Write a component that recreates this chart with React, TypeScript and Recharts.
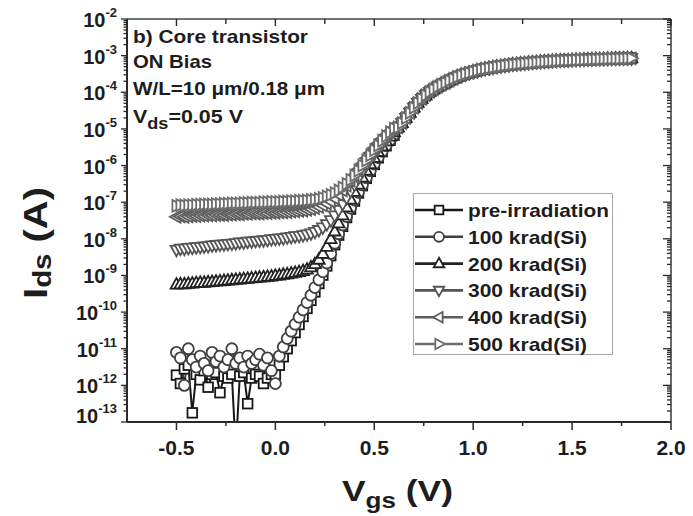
import React from 'react';
import { LineChart, Line, XAxis, YAxis, Legend } from 'recharts';

const CHART_W = 693;
const CHART_H = 516;
const FONT = '"Liberation Sans", Arial, Helvetica, sans-serif';
const INK = '#1d1d1d';
const AXIS = '#2a2a2a';

// Gate sweep grid (V)
const SWEEP_START = -0.5;
const SWEEP_STEP = 0.02;

// log10(Ids / A) for Vgs = -0.5 ... 0.6 V, one list per dose
const preIrradiation = [
  -11.72, -11.95, -11.55, -11.45, -12.75, -11.7, -11.85, -11.6, -12.05, -11.7,
  -11.65, -12.2, -11.75, -11.8, -11.7, -13.8, -11.75, -11.65, -12.5, -11.8,
  -11.7, -11.75, -11.95, -11.8, -11.7,
  -11.7, -11.45, -11.22, -11.0, -10.78, -10.56, -10.34, -10.12, -9.9, -9.68,
  -9.45, -9.22, -8.99, -8.74, -8.46, -8.16, -7.9, -7.66, -7.42, -7.19,
  -6.97, -6.75, -6.55, -6.35, -6.16, -5.97, -5.79, -5.62, -5.46, -5.31,
  -5.17,
];
const krad100 = [
  -11.1, -11.25, -12.0, -11.0, -11.3, -11.5, -11.2, -11.4, -11.6, -11.1,
  -11.35, -11.2, -11.5, -11.3, -11.0, -11.4, -11.25, -11.5, -11.2, -11.4,
  -11.3, -11.15, -11.45, -11.25, -11.6,
  -11.95, -11.2, -10.95, -10.72, -10.52, -10.33, -10.14, -9.94, -9.74, -9.54,
  -9.33, -9.12, -8.9, -8.66, -8.4, -8.12, -7.86, -7.62, -7.39, -7.16,
  -6.94, -6.73, -6.53, -6.33, -6.14, -5.96, -5.78, -5.61, -5.45, -5.3,
  -5.16,
];
const krad200 = [
  -9.25, -9.24, -9.24, -9.23, -9.22, -9.21, -9.2, -9.2, -9.19, -9.18,
  -9.17, -9.16, -9.15, -9.14, -9.13, -9.12, -9.11, -9.1, -9.09, -9.08,
  -9.07, -9.06, -9.05, -9.04, -9.03,
  -9.01, -9.0, -8.98, -8.97, -8.95, -8.93, -8.91, -8.88, -8.84, -8.78,
  -8.69, -8.57, -8.41, -8.22, -8.01, -7.8, -7.58, -7.36, -7.14, -6.93,
  -6.72, -6.52, -6.33, -6.14, -5.96, -5.79, -5.63, -5.48, -5.34, -5.21,
  -5.09,
];
const krad300 = [
  -8.3, -8.27, -8.27, -8.25, -8.24, -8.23, -8.22, -8.21, -8.2, -8.18,
  -8.17, -8.16, -8.15, -8.14, -8.13, -8.12, -8.1, -8.1, -8.08, -8.07,
  -8.06, -8.05, -8.04, -8.03, -8.01,
  -8.0, -7.99, -7.98, -7.96, -7.95, -7.93, -7.92, -7.9, -7.88, -7.85,
  -7.81, -7.76, -7.69, -7.6, -7.49, -7.36, -7.21, -7.05, -6.88, -6.7,
  -6.52, -6.34, -6.16, -5.99, -5.83, -5.68, -5.54, -5.41, -5.29, -5.17,
  -5.06,
];
const krad400 = [
  -7.4, -7.39, -7.4, -7.39, -7.38, -7.38, -7.37, -7.37, -7.36, -7.36,
  -7.35, -7.35, -7.35, -7.34, -7.34, -7.33, -7.33, -7.32, -7.32, -7.31,
  -7.31, -7.31, -7.3, -7.3, -7.29,
  -7.29, -7.28, -7.28, -7.27, -7.26, -7.25, -7.24, -7.23, -7.21, -7.19,
  -7.16, -7.13, -7.09, -7.04, -6.98, -6.9, -6.8, -6.68, -6.55, -6.41,
  -6.26, -6.1, -5.95, -5.8, -5.66, -5.52, -5.39, -5.27, -5.16, -5.06,
  -4.98,
];
const krad500 = [
  -7.1, -7.08, -7.09, -7.08, -7.08, -7.07, -7.07, -7.06, -7.06, -7.06,
  -7.05, -7.05, -7.04, -7.04, -7.03, -7.03, -7.03, -7.02, -7.02, -7.01,
  -7.01, -7.01, -7.0, -7.0, -6.99,
  -6.99, -6.99, -6.98, -6.98, -6.97, -6.97, -6.96, -6.96, -6.95, -6.94,
  -6.93, -6.91, -6.88, -6.84, -6.8, -6.75, -6.68, -6.6, -6.5, -6.39,
  -6.27, -6.14, -6.0, -5.86, -5.72, -5.58, -5.45, -5.32, -5.2, -5.09,
  -4.99,
];

// log10(Ids / A) for Vgs = 0.62 ... 1.8 V, where all doses coincide
const onState = [
  -4.96, -4.84, -4.7, -4.56, -4.42, -4.29, -4.18, -4.08, -3.99, -3.92,
  -3.85, -3.79, -3.74, -3.68, -3.63, -3.58, -3.54, -3.5, -3.47, -3.44,
  -3.41, -3.38, -3.36, -3.34, -3.32, -3.3, -3.285, -3.27, -3.255, -3.24,
  -3.23, -3.22, -3.21, -3.2, -3.19, -3.18, -3.172, -3.164, -3.157, -3.15,
  -3.144, -3.138, -3.133, -3.128, -3.123, -3.118, -3.114, -3.11, -3.106, -3.102,
  -3.098, -3.095, -3.092, -3.089, -3.086, -3.083, -3.08, -3.078, -3.075, -3.072,
];

const seriesKeys = ['pre', 'k100', 'k200', 'k300', 'k400', 'k500'];
const seriesNames = ['pre-irradiation', '100 krad(Si)', '200 krad(Si)', '300 krad(Si)', '400 krad(Si)', '500 krad(Si)'];
const seriesColors = ['#181818', '#404040', '#232323', '#555555', '#5d5d5d', '#6c6c6c'];
const seriesShapes = ['square', 'circle', 'up', 'down', 'left', 'right'];
const seriesLow = [preIrradiation, krad100, krad200, krad300, krad400, krad500];

const xTicks = [-0.5, -0.25, 0, 0.25, 0.5, 0.75, 1.0, 1.25, 1.5, 1.75, 2.0];
const yDecades = [-13, -12, -11, -10, -9, -8, -7, -6, -5, -4, -3, -2];

const rows: Record<string, number>[] = [];
seriesLow[0].forEach((_, i) => {
  const row: Record<string, number> = { vgs: +(SWEEP_START + i * SWEEP_STEP).toFixed(3) };
  seriesKeys.forEach((k, s) => { row[k] = Math.pow(10, seriesLow[s][i]); });
  rows.push(row);
});
onState.forEach((e, j) => {
  const i = seriesLow[0].length + j;
  const row: Record<string, number> = { vgs: +(SWEEP_START + i * SWEEP_STEP).toFixed(3) };
  seriesKeys.forEach((k) => { row[k] = Math.pow(10, e); });
  rows.push(row);
});

// decade ticks plus the 2..9 minor ticks in every decade
const yTicks: number[] = [];
yDecades.forEach((d) => {
  if (d === yDecades[yDecades.length - 1]) { yTicks.push(Math.pow(10, d)); return; }
  for (let m = 1; m <= 9; m++) yTicks.push(m * Math.pow(10, d));
});

const isDecade = (v: number) => {
  const lg = Math.log10(v);
  return Math.abs(lg - Math.round(lg)) < 1e-6;
};
const isHalfVolt = (v: number) => Math.abs(v * 2 - Math.round(v * 2)) < 1e-6;

function Marker({ cx, cy, shape, color, size = 1 }: { cx: number; cy: number; shape: string; color: string; size?: number }) {
  const sw = 1.8;
  if (shape === 'square') {
    const h = 4.8 * size;
    return <rect x={cx - h} y={cy - h} width={2 * h} height={2 * h} fill="#fff" stroke={color} strokeWidth={sw} />;
  }
  if (shape === 'circle') {
    return <circle cx={cx} cy={cy} r={5.5 * size} fill="#fff" stroke={color} strokeWidth={sw} />;
  }
  const angle = { up: 0, right: 90, down: 180, left: 270 }[shape as 'up'] ?? 0;
  const r = 6.5 * size;
  const pts = `0,${-r} ${0.9 * r},${0.62 * r} ${-0.9 * r},${0.62 * r}`;
  return (
    <polygon
      points={pts}
      transform={`translate(${cx},${cy}) rotate(${angle})`}
      fill="#fff"
      stroke={color}
      strokeWidth={sw}
      strokeLinejoin="miter"
    />
  );
}

const makeDot = (shape: string, color: string) => (props: any) => {
  const { cx, cy, index } = props;
  if (cx == null || cy == null || !Number.isFinite(cy)) return <g key={`${shape}-${index}`} />;
  return (
    <g key={`${shape}-${index}`}>
      <Marker cx={cx} cy={cy} shape={shape} color={color} />
    </g>
  );
};

const BottomTick = (props: any) => {
  const { x, y, payload } = props;
  const major = isHalfVolt(payload.value);
  return (
    <g>
      <line x1={x} x2={x} y1={y} y2={y + (major ? 8 : 4)} stroke={AXIS} strokeWidth={1.5} />
      {major && (
        <text x={x} y={y + 33} textAnchor="middle" fontFamily={FONT} fontWeight={700} fontSize={21} fill={INK}>
          {payload.value.toFixed(1)}
        </text>
      )}
    </g>
  );
};

const TopTick = (props: any) => {
  const { x, y, payload } = props;
  const major = isHalfVolt(payload.value);
  return <line x1={x} x2={x} y1={y} y2={y + (major ? 7 : 5)} stroke={AXIS} strokeWidth={1.4} />;
};

const LeftTick = (props: any) => {
  const { x, y, payload } = props;
  const v = payload.value;
  const major = isDecade(v);
  const e = Math.round(Math.log10(v));
  const base = e === -13 ? y + 1 : y + 8;
  return (
    <g>
      <line x1={x} x2={x - (major ? 6 : 3.5)} y1={y} y2={y} stroke={AXIS} strokeWidth={1.3} />
      {major && (
        <text x={x - 10} y={base} textAnchor="end" fontFamily={FONT} fontWeight={700} fontSize={20} fill={INK}>
          10<tspan dy={-10} fontSize={13}>{e}</tspan>
        </text>
      )}
    </g>
  );
};

const RightTick = (props: any) => {
  const { x, y, payload } = props;
  const major = isDecade(payload.value);
  return <line x1={x} x2={x - (major ? 8 : 4)} y1={y} y2={y} stroke={AXIS} strokeWidth={1.3} />;
};

const LegendBox = () => {
  const rowH = 26.8;
  const widths = [141, 119, 119, 119, 119, 119];
  return (
    <svg width={200} height={162} style={{ display: 'block' }}>
      <rect x={0.5} y={0.5} width={199} height={161} fill="#fff" stroke="#a8a8a8" strokeWidth={1} />
      {seriesNames.map((name, i) => {
        const cy = 17 + i * rowH;
        return (
          <g key={name}>
            <line x1={2} x2={50} y1={cy} y2={cy} stroke={seriesColors[i]} strokeWidth={2.6} />
            <Marker cx={26} cy={cy} shape={seriesShapes[i]} color={seriesColors[i]} size={0.9} />
            <text
              x={55}
              y={cy + 7}
              fontFamily={FONT}
              fontWeight={700}
              fontSize={19}
              fill={INK}
              textLength={widths[i]}
              lengthAdjust="spacingAndGlyphs"
            >
              {name}
            </text>
          </g>
        );
      })}
    </svg>
  );
};

export default function App() {
  return (
    <div style={{ position: 'absolute', left: 0, top: 0, width: CHART_W, height: CHART_H, background: '#fff' }}>
      <LineChart width={CHART_W} height={CHART_H} data={rows} margin={{ top: 9, right: 12, bottom: 64, left: 87 }}>
        <XAxis
          xAxisId="bottom"
          type="number"
          dataKey="vgs"
          domain={[-0.75, 2]}
          allowDataOverflow
          ticks={xTicks}
          interval={0}
          height={30}
          tickSize={0}
          tickMargin={0}
          tickLine={false}
          tick={(p: any) => <BottomTick {...p} />}
          axisLine={{ stroke: AXIS, strokeWidth: 2 }}
        />
        <XAxis
          xAxisId="top"
          orientation="top"
          type="number"
          dataKey="vgs"
          domain={[-0.75, 2]}
          allowDataOverflow
          ticks={xTicks}
          interval={0}
          height={10}
          tickSize={0}
          tickMargin={0}
          tickLine={false}
          tick={(p: any) => <TopTick {...p} />}
          axisLine={{ stroke: '#444', strokeWidth: 1.6 }}
        />
        <YAxis
          yAxisId="left"
          type="number"
          scale="log"
          domain={[1e-13, 1e-2]}
          allowDataOverflow
          ticks={yTicks}
          interval={0}
          width={40}
          tickSize={0}
          tickMargin={0}
          tickLine={false}
          tick={(p: any) => <LeftTick {...p} />}
          axisLine={{ stroke: AXIS, strokeWidth: 2 }}
        />
        <YAxis
          yAxisId="right"
          orientation="right"
          type="number"
          scale="log"
          domain={[1e-13, 1e-2]}
          allowDataOverflow
          ticks={yTicks}
          interval={0}
          width={10}
          tickSize={0}
          tickMargin={0}
          tickLine={false}
          tick={(p: any) => <RightTick {...p} />}
          axisLine={{ stroke: '#444', strokeWidth: 1.6 }}
        />
        {seriesKeys.map((k, i) => (
          <Line
            key={k}
            xAxisId="bottom"
            yAxisId="left"
            type="linear"
            dataKey={k}
            name={seriesNames[i]}
            stroke={seriesColors[i]}
            strokeWidth={2}
            dot={makeDot(seriesShapes[i], seriesColors[i])}
            activeDot={false}
            isAnimationActive={false}
          />
        ))}
        <Legend
          content={() => <LegendBox />}
          layout="horizontal"
          verticalAlign="middle"
          align="center"
          wrapperStyle={{ left: 413, top: 193, width: 200, height: 162 }}
        />
      </LineChart>
      <svg
        width={CHART_W}
        height={CHART_H}
        style={{ position: 'absolute', left: 0, top: 0, pointerEvents: 'none' }}
      >
        <g fontFamily={FONT} fontWeight={700} fill={INK}>
          <text x={133} y={43} fontSize={19} textLength={175} lengthAdjust="spacingAndGlyphs">b) Core transistor</text>
          <text x={133} y={68} fontSize={19} textLength={79} lengthAdjust="spacingAndGlyphs">ON Bias</text>
          <text x={133} y={95} fontSize={19} textLength={192} lengthAdjust="spacingAndGlyphs">W/L=10 μm/0.18 μm</text>
          <text x={133} y={123} fontSize={19} textLength={110} lengthAdjust="spacingAndGlyphs">
            V<tspan dy={6} fontSize={16}>ds</tspan><tspan dy={-6}>=0.05 V</tspan>
          </text>
          <text
            transform="translate(47,243) rotate(-90)"
            textAnchor="middle"
            fontSize={34}
            textLength={112}
            lengthAdjust="spacingAndGlyphs"
          >
            I<tspan dy={4} fontSize={25}>ds</tspan><tspan dy={-4}> (A)</tspan>
          </text>
          <text x={342} y={501} fontSize={30} textLength={111} lengthAdjust="spacingAndGlyphs">
            V<tspan dy={7} fontSize={22}>gs</tspan><tspan dy={-7}> (V)</tspan>
          </text>
        </g>
      </svg>
    </div>
  );
}
